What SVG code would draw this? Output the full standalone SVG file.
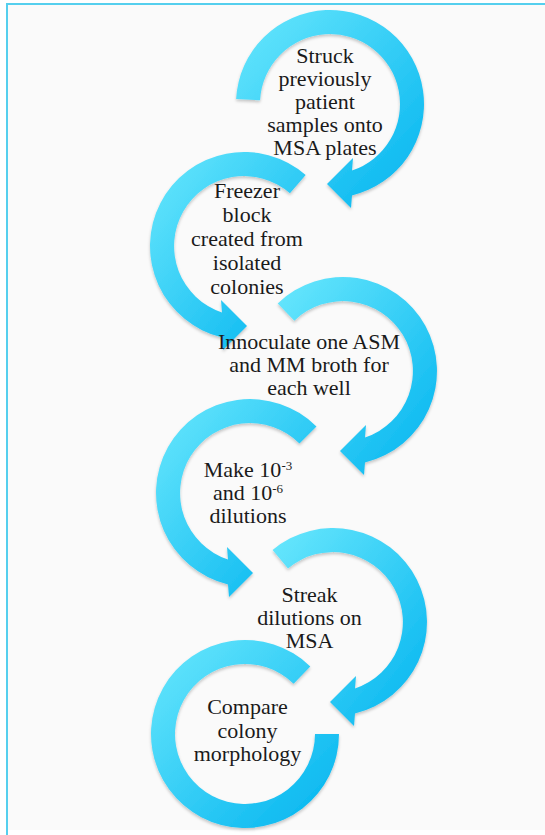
<svg xmlns="http://www.w3.org/2000/svg" width="545" height="835" viewBox="0 0 545 835">
<defs>
<linearGradient id="g" x1="0" y1="0" x2="1" y2="1">
<stop offset="0" stop-color="#6ae8fd"/>
<stop offset="1" stop-color="#00b3ef"/>
</linearGradient>
<filter id="sh" x="-10%" y="-10%" width="120%" height="125%">
<feDropShadow dx="0" dy="2" stdDeviation="1.5" flood-color="#000" flood-opacity="0.22"/>
</filter>
</defs>
<style>
.arrow{fill:url(#g);filter:url(#sh)}
.lbl{font-size:22px;fill:#1a1a1a;text-anchor:middle}
.sup{font-size:13px}
</style>
<rect x="0" y="0" width="545" height="835" fill="#ffffff"/>
<rect x="7" y="4" width="545" height="826" fill="#fafafa"/>
<line x1="7" y1="4" x2="545" y2="4" stroke="#55cfee" stroke-width="2"/>
<line x1="7" y1="3" x2="7" y2="835" stroke="#55cfee" stroke-width="2"/>
<g id="connectors">
<path class="arrow" d="M236.13,99.08 A94,94 0 1 1 352,195.4 L351,208 L327,184 L353,158 L352,170.5 A70,70 0 1 0 260.10,100.34 Z"/>
<path class="arrow" d="M305.67,175.06 A94,94 0 1 0 222,337.4 L223,350 L247,326 L221,300 L222,312.5 A70,70 0 1 1 289.92,193.17 Z"/>
<path class="arrow" d="M277.70,303.38 A94,94 0 1 1 365,462.4 L364,475 L340,451 L366,425 L365,437.5 A70,70 0 1 0 294.37,320.65 Z"/>
<path class="arrow" d="M316.47,426.53 A94,94 0 1 0 228,584.4 L229,597 L253,573 L227,547 L228,559.5 A70,70 0 1 1 299.50,443.50 Z"/>
<path class="arrow" d="M272.58,549.99 A94,94 0 1 1 355,713.4 L354,726 L330,702 L356,676 L355,688.5 A70,70 0 1 0 288.00,568.38 Z"/>
<path class="arrow" d="M310.30,666.38 A94,94 0 1 0 339,734 L315,734 A70,70 0 1 1 293.63,683.65 Z"/>
</g>
<g font-family="'Liberation Serif', 'DejaVu Serif', serif">
<g id="node1">
<text class="lbl" x="325" y="63">Struck</text>
<text class="lbl" x="325" y="86">previously</text>
<text class="lbl" x="325" y="109">patient</text>
<text class="lbl" x="325" y="132">samples onto</text>
<text class="lbl" x="325" y="155">MSA plates</text>
</g>
<g id="node2">
<text class="lbl" x="247" y="198">Freezer</text>
<text class="lbl" x="247" y="222">block</text>
<text class="lbl" x="247" y="246">created from</text>
<text class="lbl" x="247" y="270">isolated</text>
<text class="lbl" x="247" y="294">colonies</text>
</g>
<g id="node3">
<text class="lbl" x="309" y="349">Innoculate one ASM</text>
<text class="lbl" x="309" y="372">and MM broth for</text>
<text class="lbl" x="309" y="395">each well</text>
</g>
<g id="node4">
<text class="lbl" x="248" y="477">Make 10<tspan class="sup" dy="-7">-3</tspan></text>
<text class="lbl" x="248" y="500">and 10<tspan class="sup" dy="-7">-6</tspan></text>
<text class="lbl" x="248" y="523">dilutions</text>
</g>
<g id="node5">
<text class="lbl" x="309.5" y="602">Streak</text>
<text class="lbl" x="309.5" y="625">dilutions on</text>
<text class="lbl" x="309.5" y="648">MSA</text>
</g>
<g id="node6">
<text class="lbl" x="247.5" y="714">Compare</text>
<text class="lbl" x="247.5" y="737.5">colony</text>
<text class="lbl" x="247.5" y="760.5">morphology</text>
</g>
</g>
</svg>
